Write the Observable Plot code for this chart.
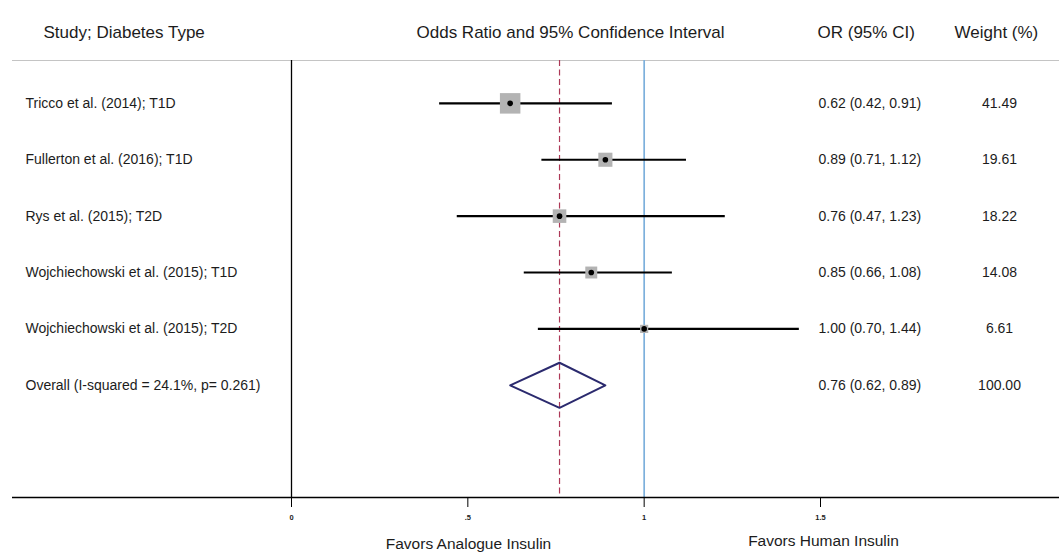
<!DOCTYPE html>
<html>
<head>
<meta charset="utf-8">
<script src="https://cdn.jsdelivr.net/npm/d3@7"></script>
<script src="https://cdn.jsdelivr.net/npm/@observablehq/plot@0.6"></script>
<style>
  html, body { margin: 0; padding: 0; background: #fff; }
  #chart svg { display: block; }
</style>
</head>
<body>
<div id="chart"></div>
<script>
// ---- data ----
const studies = [
  "Tricco et al. (2014); T1D",
  "Fullerton et al. (2016); T1D",
  "Rys et al. (2015); T2D",
  "Wojchiechowski et al. (2015); T1D",
  "Wojchiechowski et al. (2015); T2D"
];
const oddsRatios = [0.62, 0.89, 0.76, 0.85, 1.00];
const ciLower    = [0.42, 0.71, 0.47, 0.66, 0.70];
const ciUpper    = [0.91, 1.12, 1.23, 1.08, 1.44];
const weights    = [41.49, 19.61, 18.22, 14.08, 6.61];

const overallLabel = "Overall (I-squared = 24.1%, p= 0.261)";
const overallOR = 0.76, overallLower = 0.62, overallUpper = 0.89, overallWeight = 100.00;

const xTicks = [0, 0.5, 1, 1.5];
const xTickLabels = ["0", ".5", "1", "1.5"];
const headers = ["Study; Diabetes Type", "Odds Ratio and 95% Confidence Interval", "OR (95% CI)", "Weight (%)"];
const favorLabels = ["Favors Analogue Insulin", "Favors Human Insulin"];

// ---- tables built from the arrays ----
const rows = studies.map((s, i) => ({
  i, label: s, or: oddsRatios[i], lower: ciLower[i], upper: ciUpper[i], weight: weights[i]
}));
const overallRow = { i: studies.length, label: overallLabel, or: overallOR, lower: overallLower, upper: overallUpper, weight: overallWeight };
const allRows = [...rows, overallRow];
const fmt = d3.format(".2f");
const diamondHalf = 0.4;
const diamond = [
  { x: overallLower, y: overallRow.i },
  { x: overallOR, y: overallRow.i - diamondHalf },
  { x: overallUpper, y: overallRow.i },
  { x: overallOR, y: overallRow.i + diamondHalf }
];

// ---- layout ----
const W = 1059, H = 556;
const mL = 12, mT = 60, mB = 59;
const yDomain = [-0.76, 6.99];
const headerX = [43, 416, 817, 954];
const favorX = [468, 823];
const font = "Liberation Sans, Arial, Helvetica, sans-serif";
const ink = "#1c1c1c";

const marks = [
  Plot.ruleY([yDomain[0]], { stroke: "#c4c4c4", strokeWidth: 1 }),
  Plot.ruleX([0], { stroke: "#000", strokeWidth: 1.3 }),
  Plot.ruleX([1], { stroke: "#7db0dc", strokeWidth: 1.7 }),
  Plot.ruleX([overallOR], { stroke: "#ad3857", strokeWidth: 1.2, strokeDasharray: "6,3.5" }),
  Plot.ruleY([yDomain[1]], { stroke: "#000", strokeWidth: 1.3 }),
  Plot.axisX({
    ticks: xTicks,
    tickFormat: d => xTickLabels[xTicks.indexOf(d)],
    tickSize: 10, tickPadding: 7, fontSize: 7.5, fontWeight: "bold",
    stroke: "#000", fill: ink
  }),
  Plot.ruleY(rows, { y: "i", x1: "lower", x2: "upper", stroke: "#000", strokeWidth: 2.2 }),
  Plot.dot(rows, { x: "or", y: "i", r: "weight", symbol: "square", fill: "#b3b3b3", stroke: null }),
  Plot.dot(rows, { x: "or", y: "i", r: 2.8, fill: "#000", stroke: null }),
  Plot.line(diamond, { x: "x", y: "y", curve: "linear-closed", stroke: "#2b2a6e", strokeWidth: 2, fill: "none" }),
  Plot.text(allRows, { y: "i", text: "label", frameAnchor: "left", dx: 25 - mL, textAnchor: "start", fontSize: 14, fill: ink }),
  Plot.text(allRows, { y: "i", text: d => `${fmt(d.or)} (${fmt(d.lower)}, ${fmt(d.upper)})`, frameAnchor: "left", dx: 818 - mL, textAnchor: "start", fontSize: 14, fill: ink }),
  Plot.text(allRows, { y: "i", text: d => fmt(d.weight), frameAnchor: "left", dx: 999 - mL, textAnchor: "middle", fontSize: 14, fill: ink }),
  ...headers.map((h, k) => Plot.text([h], { text: d => d, frameAnchor: "top-left", dx: headerX[k] - mL, dy: 25.5 - mT, textAnchor: "start", fontSize: 17, fill: ink })),
  Plot.text([favorLabels[0]], { text: d => d, frameAnchor: "bottom-left", dx: favorX[0] - mL, dy: 548 - (H - mB), textAnchor: "middle", fontSize: 15.5, fill: ink }),
  Plot.text([favorLabels[1]], { text: d => d, frameAnchor: "bottom-left", dx: favorX[1] - mL, dy: 545 - (H - mB), textAnchor: "middle", fontSize: 15.5, fill: ink })
];

const chart = Plot.plot({
  width: W, height: H,
  marginTop: mT, marginBottom: mB, marginLeft: mL, marginRight: 0,
  style: { fontFamily: font, background: "#fff", color: ink },
  x: { domain: [0, 1.5], range: [291, 820] },
  y: { domain: yDomain, range: [mT, H - mB], axis: null },
  r: { type: "sqrt", domain: [0, 41.49], range: [0, 20.5 / Math.sqrt(Math.PI)] },
  marks
});
document.getElementById("chart").appendChild(chart);
</script>
</body>
</html>
